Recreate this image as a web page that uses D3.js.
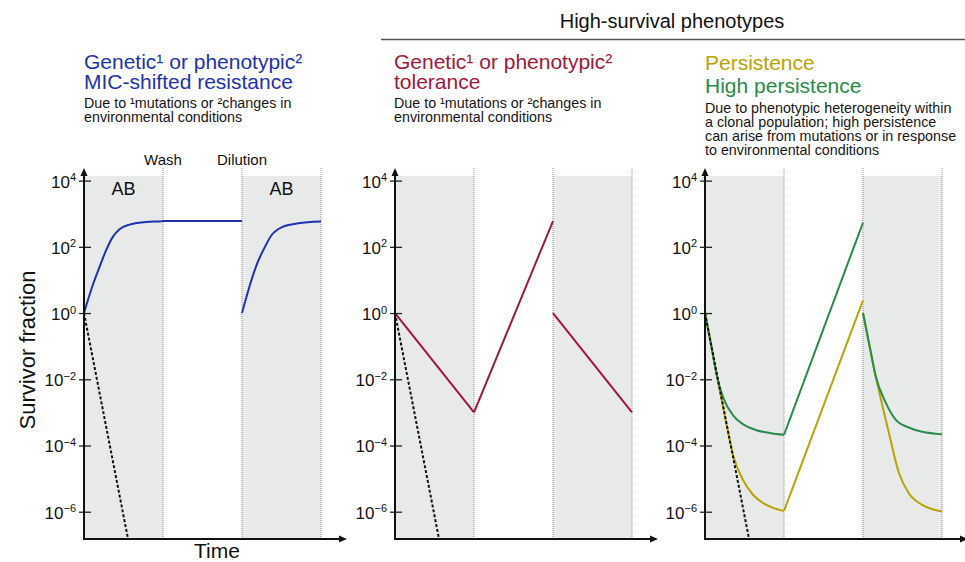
<!DOCTYPE html>
<html><head><meta charset="utf-8">
<script src="https://cdn.jsdelivr.net/npm/d3@7"></script>
<style>
body{margin:0;background:#fff}
svg{display:block}
text{font-family:"Liberation Sans",Arial,Helvetica,sans-serif}
</style>
</head><body>
<svg id="c" width="965" height="562"></svg>
<script>
// ---------- data ----------
const tickValues = [1e4, 1e2, 1, 1e-2, 1e-4, 1e-6];
const tickExponents = ["4", "2", "0", "\u22122", "\u22124", "\u22126"];
const phaseBoundaries = [1, 2, 3];
const abPhases = [[0, 1], [2, 3]];
const abLabels = ["AB", "AB"];
const eventLabels = [{t: 1, text: "Wash"}, {t: 2, text: "Dilution"}];
const headerText = "High-survival phenotypes";
const yLabel = "Survivor fraction";
const xLabel = "Time";

// kill curve of susceptible population (dashed)
const killCurve = [[0, 1], [0.56, 1.4e-7]];

// MIC-shifted resistance (blue): first AB phase + wash, second AB phase
const resistanceA = [[0, 1], [0.11, 6.9], [0.196, 24.5], [0.28, 79], [0.365, 200], [0.45, 339],
  [0.576, 468], [0.787, 562], [0.985, 595], [1, 600], [2, 605]];
const resistanceB = [[2, 1], [2.119, 9.8], [2.2, 35], [2.28, 89], [2.373, 224], [2.5, 389],
  [2.71, 513], [3, 580]];

// tolerance (red)
const toleranceDecayA = [[0, 1], [1, 1e-3]];
const toleranceRegrowth = [[1, 1e-3], [2, 600]];
const toleranceDecayB = [[2, 1], [3, 1e-3]];

// persistence (yellow)
const persistDecayA = [[0, 1], [0.1, 0.056], [0.2, 3.2e-3], [0.28, 3.5e-4], [0.357, 5e-5], [0.483, 8.9e-6],
  [0.61, 3.2e-6], [0.777, 1.6e-6], [1, 1.05e-6]];
const persistRegrowth = [[1, 1.05e-6], [2, 2.4]];
const persistDecayB = [[2, 1], [2.08, 0.11], [2.16, 0.0126], [2.24, 1.8e-3], [2.328, 2.4e-4], [2.454, 1.5e-5],
  [2.58, 3.6e-6], [2.75, 1.6e-6], [3, 1.02e-6]];

// high persistence (green)
const highPersistDecayA = [[0, 1], [0.08, 0.1], [0.15, 0.0126], [0.23, 2.8e-3], [0.36, 7.9e-4], [0.48, 4.4e-4],
  [0.65, 2.9e-4], [0.82, 2.4e-4], [1, 2.1e-4]];
const highPersistRegrowth = [[1, 2.1e-4], [2, 540]];
const highPersistDecayB = [[2, 1], [2.08, 0.11], [2.16, 0.0126], [2.286, 2e-3], [2.41, 6.2e-4], [2.58, 3.5e-4],
  [2.75, 2.6e-4], [3, 2.2e-4]];

const panelTitles = [
  ["Genetic\u00b9 or phenotypic\u00b2", "MIC-shifted resistance"],
  ["Genetic\u00b9 or phenotypic\u00b2", "tolerance"],
  ["Persistence", "High persistence"]
];
const panelDescriptions = [
  ["Due to \u00b9mutations or \u00b2changes in", "environmental conditions"],
  ["Due to \u00b9mutations or \u00b2changes in", "environmental conditions"],
  ["Due to phenotypic heterogeneity within", "a clonal population; high persistence",
   "can arise from mutations or in response", "to environmental conditions"]
];

// ---------- styles / layout ----------
const BLUE = "#1e32b0", RED = "#a1173a", YELLOW = "#b9a400", GREEN = "#2b8a4c";
const smooth = d3.curveMonotoneX, straight = d3.curveLinear;
const panelSeries = [
  [{color: BLUE, segs: [[resistanceA, smooth], [resistanceB, smooth]]}],
  [{color: RED, segs: [[toleranceDecayA, straight], [toleranceRegrowth, straight], [toleranceDecayB, straight]]}],
  [{color: YELLOW, segs: [[persistDecayA, smooth], [persistRegrowth, straight], [persistDecayB, smooth]]},
   {color: GREEN, segs: [[highPersistDecayA, smooth], [highPersistRegrowth, straight], [highPersistDecayB, smooth]]}]
];
const titleColors = [[BLUE, BLUE], [RED, RED], [YELLOW, GREEN]];
const panelX = [84, 395, 705];
const plotW = 237;
const baseY = 539, topY = 170;

const svg = d3.select("#c");
const y = d3.scaleLog().domain([1.5e-7, 2.09e4]).range([baseY, topY]);
const grayTop = y(1.4e4);

// header
svg.append("text").attr("x", 672).attr("y", 28).attr("text-anchor", "middle")
  .attr("font-size", 20).attr("fill", "#111").text(headerText);
svg.append("line").attr("x1", 381).attr("x2", 965).attr("y1", 39.5).attr("y2", 39.5)
  .attr("stroke", "#555").attr("stroke-width", 1.6);

// y label, x label
svg.append("text").attr("transform", "translate(35,350) rotate(-90)").attr("text-anchor", "middle")
  .attr("font-size", 22).attr("fill", "#111").text(yLabel);
svg.append("text").attr("x", 217).attr("y", 558).attr("text-anchor", "middle")
  .attr("font-size", 21).attr("fill", "#111").text(xLabel);

const defs = svg.append("defs");

panelX.forEach((x0, i) => {
  const x = d3.scaleLinear().domain([0, 3]).range([x0, x0 + plotW]);
  const g = svg.append("g");

  // titles
  const tx = x0 + (i === 1 ? -1 : 0);
  const titleBase = i === 2 ? [70, 93] : [69, 88.5];
  panelTitles[i].forEach((t, k) => {
    g.append("text").attr("x", tx).attr("y", titleBase[k])
      .attr("font-size", 21).attr("fill", titleColors[i][k]).text(t);
  });
  const descBase = i === 2 ? 113 : 108;
  panelDescriptions[i].forEach((t, k) => {
    g.append("text").attr("x", tx).attr("y", descBase + k * 14)
      .attr("font-size", 14.3).attr("fill", "#151515").text(t);
  });

  // grey AB phases
  g.selectAll("rect.ab").data(abPhases).join("rect").attr("class", "ab")
    .attr("x", d => x(d[0])).attr("y", grayTop)
    .attr("width", d => x(d[1]) - x(d[0])).attr("height", baseY - grayTop)
    .attr("fill", "#e8e9e9");

  // dotted phase boundaries
  g.selectAll("line.pb").data(phaseBoundaries).join("line").attr("class", "pb")
    .attr("x1", d => x(d)).attr("x2", d => x(d)).attr("y1", 168).attr("y2", baseY)
    .attr("stroke", "#8c8c8c").attr("stroke-width", 1).attr("stroke-dasharray", "1,1");

  if (i === 0) {
    g.selectAll("text.ab").data(abPhases).join("text").attr("class", "ab")
      .attr("x", d => x((d[0] + d[1]) / 2)).attr("y", 195).attr("text-anchor", "middle")
      .attr("font-size", 18).attr("fill", "#111").text((d, k) => abLabels[k]);
    g.selectAll("text.ev").data(eventLabels).join("text").attr("class", "ev")
      .attr("x", d => x(d.t)).attr("y", 165).attr("text-anchor", "middle")
      .attr("font-size", 15).attr("fill", "#111").text(d => d.text);
  }

  // clip
  const cid = "clip" + i;
  defs.append("clipPath").attr("id", cid).append("rect")
    .attr("x", x0).attr("y", topY).attr("width", plotW + 2).attr("height", baseY - topY);

  const lg = g.append("g").attr("clip-path", `url(#${cid})`);
  panelSeries[i].forEach(s => {
    s.segs.forEach(([seg, curve]) => {
      const line = d3.line().x(d => x(d[0])).y(d => y(d[1])).curve(curve);
      lg.append("path").attr("d", line(seg)).attr("fill", "none")
        .attr("stroke", s.color).attr("stroke-width", 2).attr("stroke-linejoin", "round");
    });
  });
  lg.append("path").attr("d", d3.line().x(d => x(d[0])).y(d => y(d[1]))(killCurve))
    .attr("fill", "none").attr("stroke", "#111").attr("stroke-width", 2)
    .attr("stroke-dasharray", "3,2");

  // y axis
  const ax = g.append("g").attr("transform", `translate(${x0},0)`)
    .call(d3.axisLeft(y).tickValues(tickValues).tickFormat(() => "").tickSizeOuter(0));
  ax.select(".domain").remove();
  ax.selectAll(".tick line").attr("x1", -5).attr("x2", 7).attr("stroke", "#222").attr("stroke-width", 1.3);
  ax.selectAll(".tick text").remove();
  ax.selectAll(".tick").each(function(d, k) {
    const t = d3.select(this).append("text").attr("x", -8).attr("y", 6.5)
      .attr("text-anchor", "end").attr("font-size", 17).attr("fill", "#111");
    t.append("tspan").text("10");
    t.append("tspan").attr("font-size", 11).attr("dy", -6.5).text(tickExponents[k]);
  });

  // axis lines with arrows
  g.append("line").attr("x1", x0).attr("x2", x0).attr("y1", baseY + 1).attr("y2", topY + 4)
    .attr("stroke", "#111").attr("stroke-width", 2);
  g.append("path").attr("d", `M${x0 - 3.5},${topY + 6}L${x0},${topY - 2}L${x0 + 3.5},${topY + 6}Z`).attr("fill", "#111");
  const xEnd = x0 + 262;
  g.append("line").attr("x1", x0 - 1).attr("x2", xEnd - 4).attr("y1", baseY).attr("y2", baseY)
    .attr("stroke", "#111").attr("stroke-width", 2);
  g.append("path").attr("d", `M${xEnd - 7},${baseY - 3.5}L${xEnd + 1},${baseY}L${xEnd - 7},${baseY + 3.5}Z`).attr("fill", "#111");
});
</script>
</body></html>
